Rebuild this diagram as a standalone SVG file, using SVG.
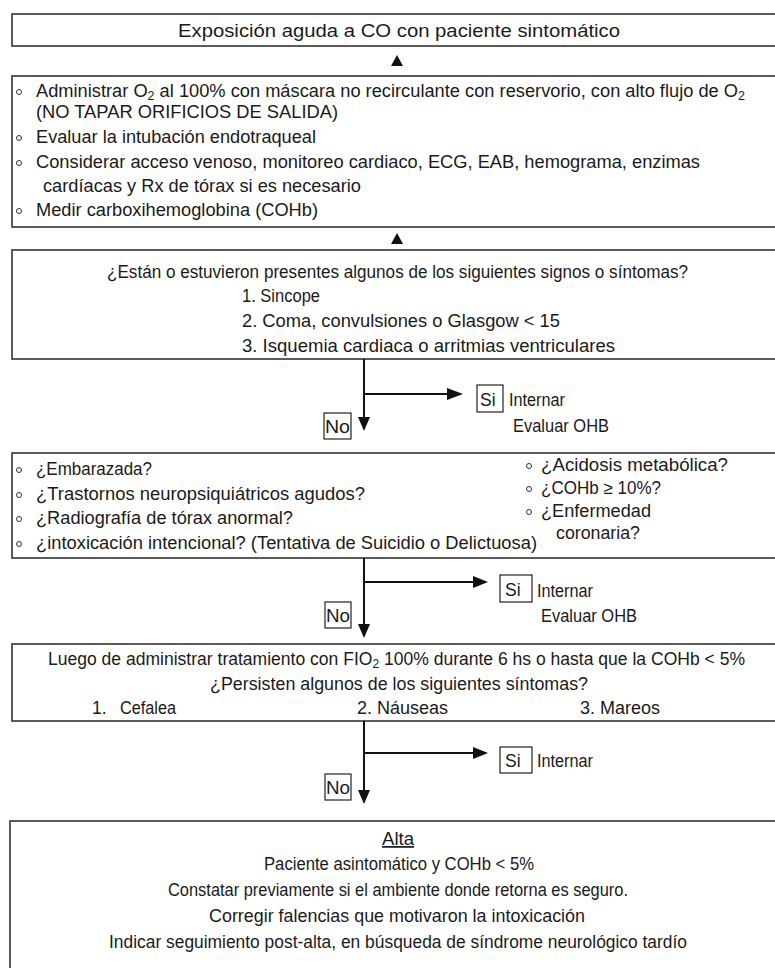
<svg xmlns="http://www.w3.org/2000/svg" width="775" height="968" viewBox="0 0 775 968">
<style>
.box{fill:#fff;stroke:#333;stroke-width:1.6}
.t{font-family:"Liberation Sans",Arial,sans-serif;font-size:17.5px;fill:#1a1a1a}
.lbl{fill:none;stroke:#222;stroke-width:1.2}
.ln{fill:none;stroke:#111;stroke-width:2}
.ah{fill:#111}
.bul{fill:none;stroke:#333;stroke-width:1}
</style>
<rect width="775" height="968" fill="#fff"/>

<g id="n1">
<rect class="box" x="12" y="14" width="800" height="32"/>
<text class="t" x="178" y="37" font-size="19.5" textLength="442" lengthAdjust="spacingAndGlyphs">Exposición aguda a CO con paciente sintomático</text>
</g>

<g id="n2">
<rect class="box" x="12" y="76" width="800" height="151"/>
<circle class="bul" cx="19" cy="92" r="2.5"/>
<text class="t" x="36" y="97" textLength="709" lengthAdjust="spacingAndGlyphs">Administrar O<tspan font-size="12" dy="3">2</tspan><tspan dy="-3"> al 100% con máscara no recirculante con reservorio, con alto flujo de O</tspan><tspan font-size="12" dy="3">2</tspan></text>
<text class="t" x="36" y="118" textLength="302" lengthAdjust="spacingAndGlyphs">(NO TAPAR ORIFICIOS DE SALIDA)</text>
<circle class="bul" cx="19" cy="138" r="2.5"/>
<text class="t" x="36" y="143" textLength="280" lengthAdjust="spacingAndGlyphs">Evaluar la intubación endotraqueal</text>
<circle class="bul" cx="19" cy="163" r="2.5"/>
<text class="t" x="36" y="168" textLength="664" lengthAdjust="spacingAndGlyphs">Considerar acceso venoso, monitoreo cardiaco, ECG, EAB, hemograma, enzimas</text>
<text class="t" x="43" y="192" textLength="318" lengthAdjust="spacingAndGlyphs">cardíacas y Rx de tórax si es necesario</text>
<circle class="bul" cx="19" cy="211" r="2.5"/>
<text class="t" x="36" y="216" textLength="282" lengthAdjust="spacingAndGlyphs">Medir carboxihemoglobina (COHb)</text>
</g>

<g id="n3">
<rect class="box" x="12" y="250" width="800" height="109"/>
<text class="t" x="107" y="278" textLength="581" lengthAdjust="spacingAndGlyphs">¿Están o estuvieron presentes algunos de los siguientes signos o síntomas?</text>
<text class="t" x="242" y="302" textLength="78" lengthAdjust="spacingAndGlyphs">1. Sincope</text>
<text class="t" x="242" y="327" textLength="318" lengthAdjust="spacingAndGlyphs">2. Coma, convulsiones o Glasgow &lt; 15</text>
<text class="t" x="242" y="352" textLength="373" lengthAdjust="spacingAndGlyphs">3. Isquemia cardiaca o arritmias ventriculares</text>
</g>

<g id="d1">
<rect class="lbl" x="477" y="385" width="26" height="27"/>
<text class="t" x="480" y="406" font-size="19">Si</text>
<text class="t" x="509" y="406" textLength="56" lengthAdjust="spacingAndGlyphs">Internar</text>
<text class="t" x="513" y="432" textLength="96" lengthAdjust="spacingAndGlyphs">Evaluar OHB</text>
<rect class="lbl" x="324" y="413" width="27" height="26"/>
<text class="t" x="325" y="433" font-size="19" textLength="25" lengthAdjust="spacingAndGlyphs">No</text>
</g>

<g id="n4">
<rect class="box" x="12" y="453" width="800" height="105"/>
<circle class="bul" cx="19" cy="470" r="2.5"/>
<text class="t" x="36" y="475" textLength="116" lengthAdjust="spacingAndGlyphs">¿Embarazada?</text>
<circle class="bul" cx="19" cy="495" r="2.5"/>
<text class="t" x="36" y="500" textLength="329" lengthAdjust="spacingAndGlyphs">¿Trastornos neuropsiquiátricos agudos?</text>
<circle class="bul" cx="19" cy="519" r="2.5"/>
<text class="t" x="36" y="524" textLength="257" lengthAdjust="spacingAndGlyphs">¿Radiografía de tórax anormal?</text>
<circle class="bul" cx="19" cy="544" r="2.5"/>
<text class="t" x="36" y="549" textLength="501" lengthAdjust="spacingAndGlyphs">¿intoxicación intencional? (Tentativa de Suicidio o Delictuosa)</text>
<circle class="bul" cx="529" cy="466" r="2.5"/>
<text class="t" x="541" y="471" textLength="187" lengthAdjust="spacingAndGlyphs">¿Acidosis metabólica?</text>
<circle class="bul" cx="529" cy="489" r="2.5"/>
<text class="t" x="541" y="494" textLength="120" lengthAdjust="spacingAndGlyphs">¿COHb ≥ 10%?</text>
<circle class="bul" cx="529" cy="512" r="2.5"/>
<text class="t" x="541" y="517" textLength="110" lengthAdjust="spacingAndGlyphs">¿Enfermedad</text>
<text class="t" x="556" y="539" textLength="84" lengthAdjust="spacingAndGlyphs">coronaria?</text>
</g>

<g id="d2">
<rect class="lbl" x="500" y="575" width="32" height="27"/>
<text class="t" x="505" y="596" font-size="19">Si</text>
<text class="t" x="537" y="597" textLength="56" lengthAdjust="spacingAndGlyphs">Internar</text>
<text class="t" x="541" y="622" textLength="96" lengthAdjust="spacingAndGlyphs">Evaluar OHB</text>
<rect class="lbl" x="325" y="602" width="26" height="26"/>
<text class="t" x="326" y="622" font-size="19" textLength="24" lengthAdjust="spacingAndGlyphs">No</text>
</g>

<g id="n5">
<rect class="box" x="12" y="644" width="800" height="77"/>
<text class="t" x="48" y="665" textLength="697" lengthAdjust="spacingAndGlyphs">Luego de administrar tratamiento con FIO<tspan font-size="12" dy="3">2</tspan><tspan dy="-3"> 100% durante 6 hs o hasta que la COHb &lt; 5%</tspan></text>
<text class="t" x="210" y="690" textLength="378" lengthAdjust="spacingAndGlyphs">¿Persisten algunos de los siguientes síntomas?</text>
<text class="t" x="92" y="714">1.</text>
<text class="t" x="120" y="714" textLength="56" lengthAdjust="spacingAndGlyphs">Cefalea</text>
<text class="t" x="357" y="714" textLength="91" lengthAdjust="spacingAndGlyphs">2. Náuseas</text>
<text class="t" x="580" y="714" textLength="80" lengthAdjust="spacingAndGlyphs">3. Mareos</text>
</g>

<g id="d3">
<rect class="lbl" x="500" y="747" width="32" height="26"/>
<text class="t" x="505" y="767" font-size="19">Si</text>
<text class="t" x="537" y="767" textLength="56" lengthAdjust="spacingAndGlyphs">Internar</text>
<rect class="lbl" x="325" y="774" width="26" height="26"/>
<text class="t" x="326" y="794" font-size="19" textLength="24" lengthAdjust="spacingAndGlyphs">No</text>
</g>

<g id="n6">
<rect class="box" x="10" y="821" width="800" height="200"/>
<text class="t" x="382" y="845" textLength="32" lengthAdjust="spacingAndGlyphs" text-decoration="underline">Alta</text>
<text class="t" x="264" y="870" textLength="270" lengthAdjust="spacingAndGlyphs">Paciente asintomático y COHb &lt; 5%</text>
<text class="t" x="168" y="896" textLength="460" lengthAdjust="spacingAndGlyphs">Constatar previamente si el ambiente donde retorna es seguro.</text>
<text class="t" x="209" y="922" textLength="376" lengthAdjust="spacingAndGlyphs">Corregir falencias que motivaron la intoxicación</text>
<text class="t" x="109" y="948" textLength="578" lengthAdjust="spacingAndGlyphs">Indicar seguimiento post-alta, en búsqueda de síndrome neurológico tardío</text>
</g>

<g id="connectors">
<polygon class="ah" points="397,55 391,66 403,66"/>
<polygon class="ah" points="397,233 391,244 403,244"/>
<path class="ln" d="M364,359 V418"/>
<polygon class="ah" points="358,417 370,417 364,431"/>
<path class="ln" d="M364,394 H448"/>
<polygon class="ah" points="447,388 447,400 463,394"/>
<path class="ln" d="M364,558 V625"/>
<polygon class="ah" points="358,624 370,624 364,638"/>
<path class="ln" d="M364,582 H474"/>
<polygon class="ah" points="473,576 473,588 488,582"/>
<path class="ln" d="M364,721 V791"/>
<polygon class="ah" points="358,790 370,790 364,804"/>
<path class="ln" d="M364,753 H474"/>
<polygon class="ah" points="473,747 473,759 488,753"/>
</g>
</svg>
